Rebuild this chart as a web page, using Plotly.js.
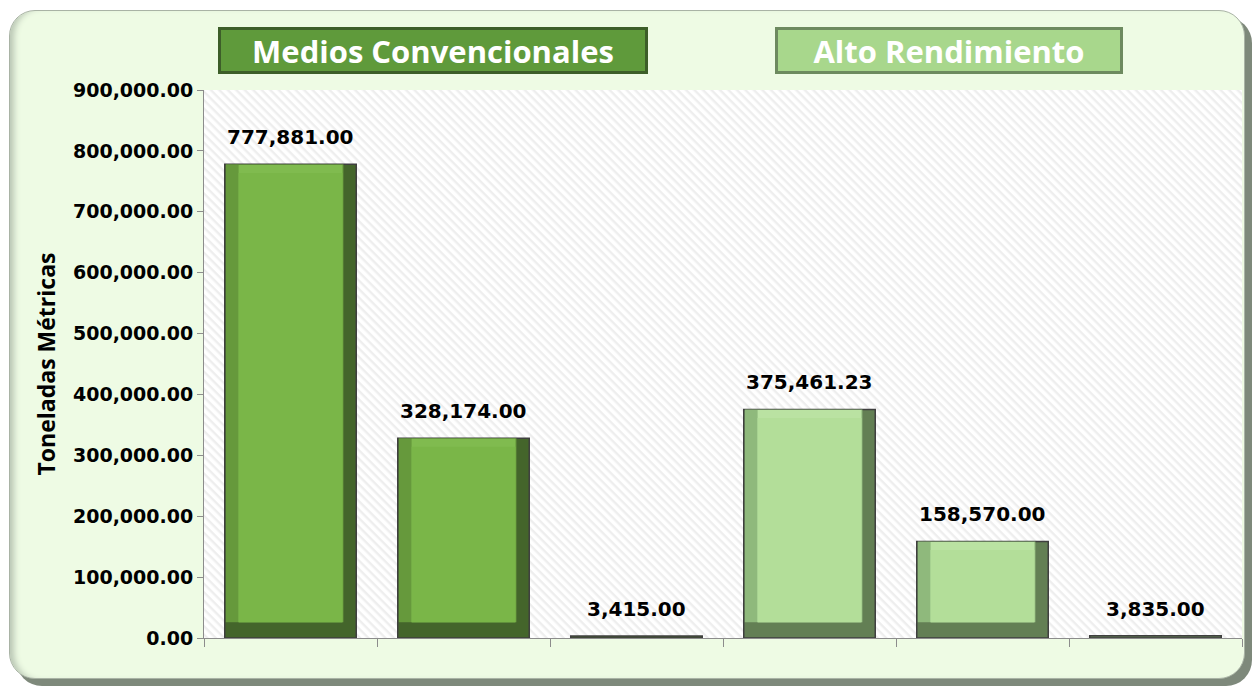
<!DOCTYPE html>
<html>
<head>
<meta charset="utf-8">
<script src="https://cdn.plot.ly/plotly-3.0.1.min.js"></script>
<style>
  html, body { margin: 0; padding: 0; background: #ffffff; }
  #panel {
    position: absolute; left: 9px; top: 10px; width: 1234px; height: 667px;
    background: #eefbe4; border: 1px solid #a9b3a5; border-radius: 26px;
    box-shadow: 7px 7px 0 #7e897b, inset 8px 0 6px -4px #b9c6b4;
  }
  #chart { position: absolute; left: 0; top: 0; width: 1257px; height: 687px; }
</style>
</head>
<body>
<div id="panel"></div>
<div id="chart"></div>
<script>
// datos
const categorias = ['MC 1', 'MC 2', 'MC 3', 'AR 1', 'AR 2', 'AR 3'];
const grupos = ['Medios Convencionales', 'Medios Convencionales', 'Medios Convencionales',
                'Alto Rendimiento', 'Alto Rendimiento', 'Alto Rendimiento'];
const toneladas = [777881.00, 328174.00, 3415.00, 375461.23, 158570.00, 3835.00];
const yTicks = [0, 100000, 200000, 300000, 400000, 500000, 600000, 700000, 800000, 900000];

// colores por grupo: [sombra, bisel izq, bisel sup, cara]
const colores = {
    'Medios Convencionales': ['#44652b', '#66993c', '#80bb4f', '#7ab648'],
    'Alto Rendimiento': ['#637f54', '#8fb97c', '#bae2a2', '#b3de99']
};

const W = 0.76;            // ancho de barra
const LADO = 0.08;         // bisel lateral (en categorias)
const ABAJO = 26000;       // bisel inferior (en toneladas)
const ARRIBA = 14000;      // bisel superior
const grande = v => v > ABAJO + ARRIBA + 10000;

const fmt = v => v.toLocaleString('en-US', { minimumFractionDigits: 2, maximumFractionDigits: 2 });

const capa = (idx, y, base, offset, width, line) => ({
    type: 'bar', x: categorias, y: y, base: base, offset: offset, width: width,
    marker: { color: grupos.map(g => colores[g][idx]), line: line || { width: 0 } },
    hoverinfo: 'skip', showlegend: false, cliponaxis: false
});

const traces = [
    capa(0, toneladas, undefined, -W / 2, W, { color: '#3f3f3f', width: 1.5 }),
    capa(1, toneladas.map(v => grande(v) ? v - ABAJO : null), ABAJO, -W / 2 + 0.006, W - LADO),
    capa(2, toneladas.map(v => grande(v) ? v - ABAJO - 1000 : null), ABAJO, -W / 2 + LADO, W - 2 * LADO),
    capa(3, toneladas.map(v => grande(v) ? v - ABAJO - ARRIBA : null), ABAJO, -W / 2 + LADO, W - 2 * LADO)
];

const rayas = 'data:image/svg+xml;utf8,' + encodeURIComponent(
    '<svg xmlns="http://www.w3.org/2000/svg" width="1038" height="548">' +
    '<defs><pattern id="p" width="6" height="6" patternUnits="userSpaceOnUse" patternTransform="rotate(45)">' +
    '<rect width="6" height="6" fill="#ffffff"/><rect width="6" height="2.4" fill="#eeeeee"/></pattern></defs>' +
    '<rect width="1038" height="548" fill="url(#p)"/></svg>');

const annotations = toneladas.map((v, i) => ({
    x: categorias[i], y: v, text: '<b>' + fmt(v) + '</b>', showarrow: false,
    xanchor: 'center', yanchor: 'bottom', yshift: 13, font: { size: 20, color: '#000000' }
}));

annotations.push(
    {
        xref: 'paper', yref: 'paper', x: 0.2205, y: 1.072, xanchor: 'center', yanchor: 'middle',
        width: 424, height: 41,
        text: '<b>Medios Convencionales</b>', showarrow: false,
        font: { family: 'Open Sans', size: 31, color: '#ffffff' },
        bgcolor: '#5f9a3b', bordercolor: '#3d5e29', borderwidth: 3, borderpad: 0
    },
    {
        xref: 'paper', yref: 'paper', x: 0.718, y: 1.072, xanchor: 'center', yanchor: 'middle',
        width: 342, height: 41,
        text: '<b>Alto Rendimiento</b>', showarrow: false,
        font: { family: 'Open Sans', size: 31, color: '#ffffff' },
        bgcolor: '#a8d78c', bordercolor: '#6d8a5f', borderwidth: 3, borderpad: 0
    }
);

const layout = {
    width: 1257, height: 687,
    margin: { l: 204, r: 15, t: 90, b: 49 },
    paper_bgcolor: 'rgba(0,0,0,0)', plot_bgcolor: '#ffffff',
    barmode: 'overlay',
    font: { family: 'DejaVu Sans', color: '#000000' },
    xaxis: {
        type: 'category', showticklabels: false, tickson: 'boundaries',
        ticks: 'outside', ticklen: 8, tickcolor: '#8c8c8c',
        showline: true, linecolor: '#8c8c8c', linewidth: 1, showgrid: false,
        range: [-0.5, 5.5]
    },
    yaxis: {
        range: [0, 900000], tickvals: yTicks, ticktext: yTicks.map(v => '<b>' + fmt(v) + '</b>'),
        ticks: 'outside', ticklen: 6, tickcolor: '#8c8c8c',
        showline: true, linecolor: '#8c8c8c', linewidth: 1, showgrid: false, zeroline: false,
        tickfont: { size: 19 },
        title: { text: '<b>Toneladas Métricas</b>', font: { family: 'Open Sans', size: 23 }, standoff: 10 }
    },
    images: [{
        source: rayas, xref: 'paper', yref: 'paper', x: 0, y: 1, sizex: 1, sizey: 1,
        sizing: 'stretch', xanchor: 'left', yanchor: 'top', layer: 'below'
    }],
    annotations: annotations
};

Plotly.newPlot('chart', traces, layout, { displayModeBar: false, staticPlot: true });
</script>
</body>
</html>
